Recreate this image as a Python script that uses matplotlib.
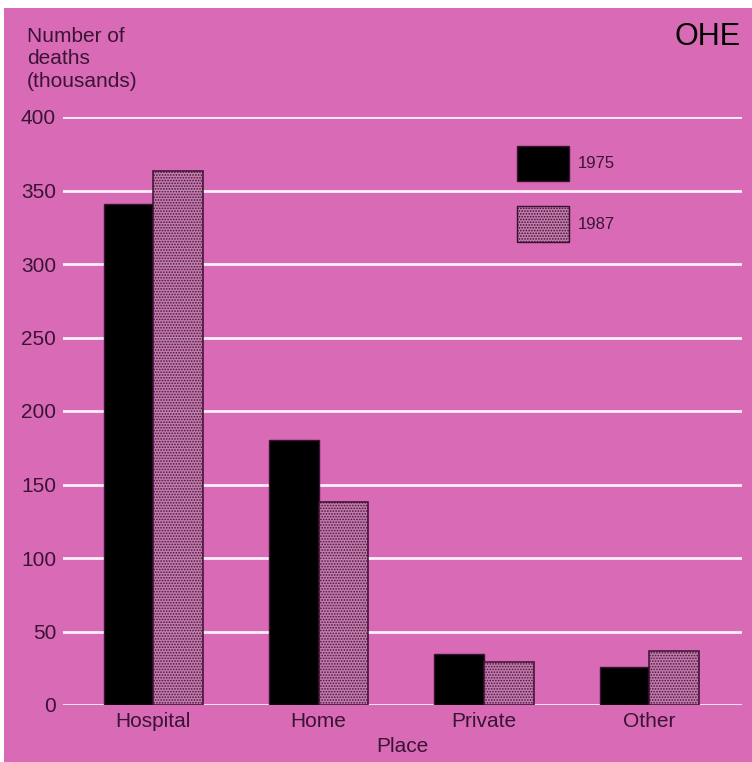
import numpy as np
import matplotlib
matplotlib.use("Agg")
import matplotlib.pyplot as plt
from matplotlib.patches import Rectangle, Patch

places = ["Hospital", "Home", "Private", "Other"]
deaths_1975 = [341, 180, 35, 26]
deaths_1987 = [363, 138, 29, 37]
years = ["1975", "1987"]
y_ticks = [0, 50, 100, 150, 200, 250, 300, 350, 400]

PINK = "#d96ab5"
INK = "#3a1434"
STIPPLE = "#c47cae"
FS = 15

plt.rcParams["font.family"] = ["Liberation Sans", "DejaVu Sans"]
plt.rcParams["hatch.color"] = "#4e1c46"
plt.rcParams["hatch.linewidth"] = 0.8

fig = plt.figure(figsize=(7.52, 7.62), dpi=100, facecolor="white")

# pink card behind the chart, leaving a thin white margin top and left
fig.patches.append(Rectangle((4 / 752, 0), 1, 1 - 8 / 762,
                             transform=fig.transFigure, facecolor=PINK,
                             edgecolor="none", zorder=-10))

ax = fig.add_axes([63 / 752, 1 - 705 / 762, (742 - 63) / 752, (705 - 117) / 762])
ax.set_facecolor("none")

x = np.arange(len(places))
w = 0.3

ax.bar(x - w / 2, deaths_1975, width=w, color="black", edgecolor=INK,
       linewidth=1, zorder=3)
ax.bar(x + w / 2, deaths_1987, width=w, color=STIPPLE, edgecolor="#3a1030",
       hatch="......", linewidth=1.2, zorder=3, alpha=0.92)

ax.set_xlim(-0.545, 3.56)
ax.set_ylim(0, 400)
ax.set_yticks(y_ticks)
ax.set_xticks(x)
ax.set_xticklabels(places)
ax.yaxis.grid(True, color="white", linewidth=2, alpha=0.9, zorder=1)
ax.set_axisbelow(True)
for s in ax.spines.values():
    s.set_visible(False)
ax.tick_params(axis="both", length=0, labelsize=FS, colors=INK)
ax.tick_params(axis="y", pad=5)
ax.tick_params(axis="x", pad=5)

ax.set_xlabel("Place", fontsize=FS, color=INK, labelpad=4)
fig.text(27 / 752, 1 - 27 / 762, "Number of\ndeaths\n(thousands)",
         fontsize=FS, color=INK, va="top", ha="left", linespacing=1.22)

# OHE logo
fig.text(741 / 752, 1 - 37 / 762, "OHE", fontsize=22, color="black",
         ha="right", va="center")

handles = [Patch(facecolor="black", edgecolor=INK),
           Patch(facecolor=STIPPLE, edgecolor="#3a1030", hatch="......")]
ax.legend(handles, years, loc="upper left", bbox_to_anchor=(0.669, 0.951),
          frameon=False, fontsize=12, handlelength=3.1, handleheight=2.9,
          labelspacing=1.5, handletextpad=0.55, borderpad=0,
          borderaxespad=0, labelcolor=INK)

fig.savefig("out.png", dpi=100, facecolor="white")
